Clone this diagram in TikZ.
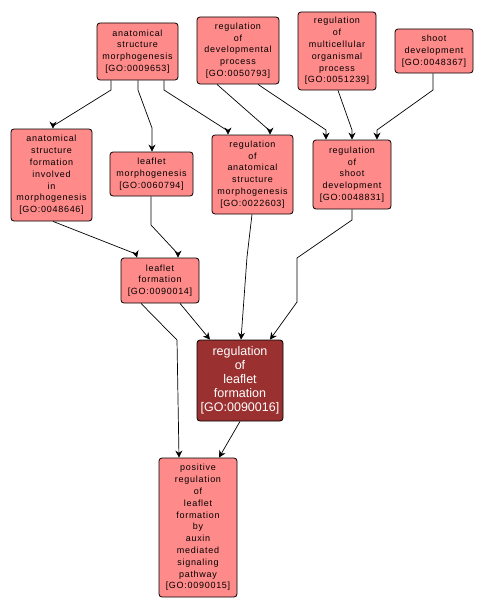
\documentclass[tikz,border=0pt]{standalone}
\usepackage{fontspec}
\usetikzlibrary{arrows.meta}
\newfontfamily\lblfont[LetterSpace=8]{Liberation Sans}
\newfontfamily\bigfont{Liberation Sans}
\definecolor{gopink}{RGB}{255,138,138}
\definecolor{godark}{RGB}{155,48,48}
\tikzset{
  term/.style={draw=black, line width=0.8pt, fill=gopink, rounded corners=3pt,
    inner sep=0pt, align=center, font=\lblfont\fontsize{9}{11.8}\selectfont},
  focus/.style={term, fill=godark, text=white, font=\bigfont\fontsize{12.5}{14}\selectfont},
  edge/.style={draw=black, line width=0.7pt, -{Stealth[length=7pt,width=7pt]}}
}
\begin{document}
\begin{tikzpicture}[x=1pt,y=-1pt]
\useasboundingbox (0,0) rectangle (483,610);
\node[term, minimum width=81pt, minimum height=57pt] (b1) at (137.5,51.5) {anatomical\\structure\\morphogenesis\\{[}GO:0009653{]}};
\node[term, minimum width=82pt, minimum height=67pt] (b2) at (238,50.5) {regulation\\of\\developmental\\process\\{[}GO:0050793{]}};
\node[term, minimum width=78pt, minimum height=78pt] (b3) at (337,51) {regulation\\of\\multicellular\\organismal\\process\\{[}GO:0051239{]}};
\node[term, minimum width=78pt, minimum height=44pt] (b4) at (434,51) {shoot\\development\\{[}GO:0048367{]}};
\node[term, minimum width=81pt, minimum height=92pt] (b5) at (51.5,175) {anatomical\\structure\\formation\\involved\\in\\morphogenesis\\{[}GO:0048646{]}};
\node[term, minimum width=83pt, minimum height=44pt] (b6) at (151.5,174) {leaflet\\morphogenesis\\{[}GO:0060794{]}};
\node[term, minimum width=81pt, minimum height=79pt] (b7) at (252.5,174.5) {regulation\\of\\anatomical\\structure\\morphogenesis\\{[}GO:0022603{]}};
\node[term, minimum width=78pt, minimum height=69pt] (b8) at (352,174.5) {regulation\\of\\shoot\\development\\{[}GO:0048831{]}};
\node[term, minimum width=78pt, minimum height=45pt] (b9) at (160,280.5) {leaflet\\formation\\{[}GO:0090014{]}};
\node[focus, minimum width=86pt, minimum height=81pt] (b10) at (240,380.5) {regulation\\of\\leaflet\\formation\\{[}GO:0090016{]}};
\node[term, minimum width=78pt, minimum height=139pt] (b11) at (198,527.5) {positive\\regulation\\of\\leaflet\\formation\\by\\auxin\\mediated\\signaling\\pathway\\{[}GO:0090015{]}};

\draw[edge] ([xshift=-26.5pt]b1.south) -- (111,90) -- (53,126) -- ([xshift=1.5pt]b5.north);
\draw[edge] ([xshift=0.5pt]b1.south) -- (138,90) -- (152,128) -- ([xshift=0.5pt]b6.north);
\draw[edge] ([xshift=26.5pt]b1.south) -- (164,90) -- (228,131) -- ([xshift=-24.5pt]b7.north);
\draw[edge] ([xshift=-21pt]b2.south) -- (270,131) -- ([xshift=17.5pt]b7.north);
\draw[edge] ([xshift=20pt]b2.south) -- (326,130) -- ([xshift=-26pt]b8.north);
\draw[edge] ([xshift=1pt]b3.south) -- (352,130) -- (b8.north);
\draw[edge] ([xshift=-1pt]b4.south) -- (433,90) -- (377,130) -- ([xshift=25pt]b8.north);
\draw[edge] ([xshift=1.5pt]b5.south) -- (136,254) -- ([xshift=-23pt]b9.north);
\draw[edge] ([xshift=-0.5pt]b6.south) -- (151,225) -- (178,254) -- ([xshift=18pt]b9.north);
\draw[edge] ([xshift=-0.5pt]b7.south) -- (247,257) -- ([xshift=1pt]b10.north);
\draw[edge] (b8.south) -- (352,220) -- (297,258) -- (297,302) -- ([xshift=30pt]b10.north);
\draw[edge] ([xshift=20pt]b9.south) -- ([xshift=-30pt]b10.north);
\draw[edge] ([xshift=-19pt]b9.south) -- (177,340) -- ([xshift=-19pt]b11.north);
\draw[edge] (b10.south) -- ([xshift=21pt]b11.north);
\end{tikzpicture}
\end{document}
